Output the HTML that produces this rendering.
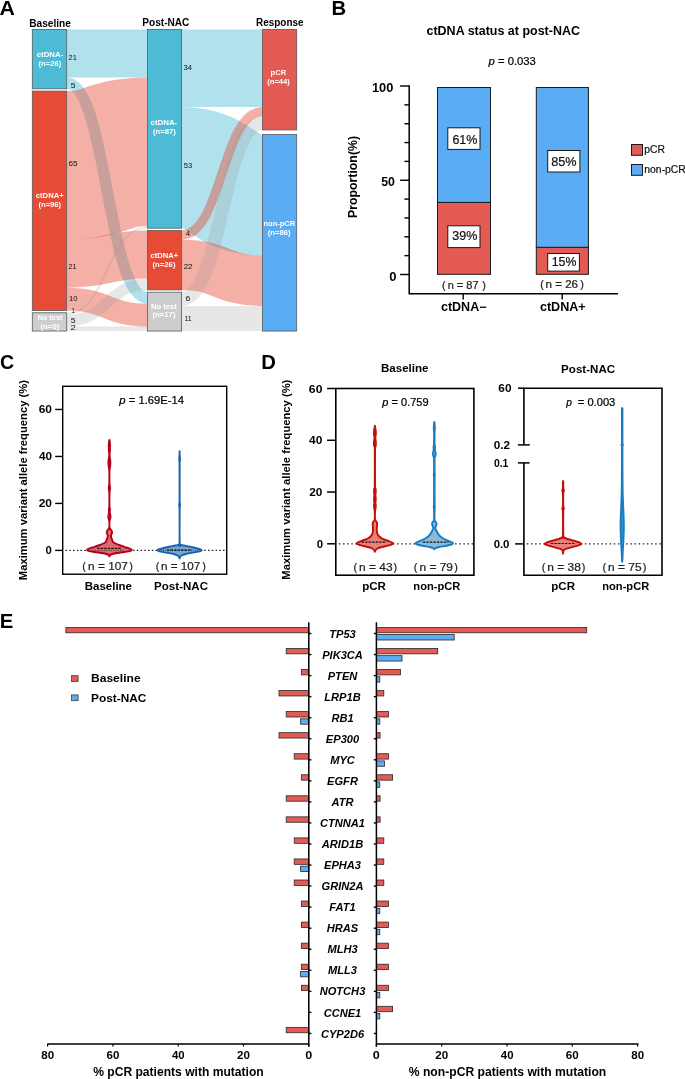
<!DOCTYPE html>
<html><head><meta charset="utf-8"><title>Figure</title>
<style>
html,body{margin:0;padding:0;background:#fff;overflow:hidden;}
svg{display:block;will-change:transform;}
text{font-family:"Liberation Sans", sans-serif;}
</style></head>
<body>
<svg width="685" height="1079" viewBox="0 0 685 1079" font-family="Liberation Sans, sans-serif">

<path d="M66.70,53.39C107.10,53.39 107.10,53.39 147.50,53.39" fill="none" stroke="#4DBBD5" stroke-opacity="0.44" stroke-width="47.98"/>
<path d="M66.70,83.10C107.10,83.10 107.10,297.92 147.50,297.92" fill="none" stroke="#4DBBD5" stroke-opacity="0.44" stroke-width="11.42"/>
<path d="M66.70,165.37C107.10,165.37 107.10,151.65 147.50,151.65" fill="none" stroke="#E64B35" stroke-opacity="0.44" stroke-width="148.52"/>
<path d="M66.70,263.63C107.10,263.63 107.10,254.49 147.50,254.49" fill="none" stroke="#E64B35" stroke-opacity="0.44" stroke-width="47.99"/>
<path d="M66.70,299.05C107.10,299.05 107.10,315.06 147.50,315.06" fill="none" stroke="#E64B35" stroke-opacity="0.44" stroke-width="22.85"/>
<path d="M66.70,313.91C107.10,313.91 107.10,227.05 147.50,227.05" fill="none" stroke="#969696" stroke-opacity="0.23" stroke-width="2.29"/>
<path d="M66.70,320.77C107.10,320.77 107.10,284.19 147.50,284.19" fill="none" stroke="#969696" stroke-opacity="0.23" stroke-width="11.43"/>
<path d="M66.70,328.77C107.10,328.77 107.10,328.77 147.50,328.77" fill="none" stroke="#969696" stroke-opacity="0.23" stroke-width="4.57"/>
<path d="M181.60,68.25C222.00,68.25 222.00,68.25 262.40,68.25" fill="none" stroke="#4DBBD5" stroke-opacity="0.44" stroke-width="77.69"/>
<path d="M181.60,167.64C222.00,167.64 222.00,195.09 262.40,195.09" fill="none" stroke="#4DBBD5" stroke-opacity="0.44" stroke-width="121.10"/>
<path d="M181.60,235.07C222.00,235.07 222.00,111.66 262.40,111.66" fill="none" stroke="#E64B35" stroke-opacity="0.44" stroke-width="9.14"/>
<path d="M181.60,264.77C222.00,264.77 222.00,280.78 262.40,280.78" fill="none" stroke="#E64B35" stroke-opacity="0.44" stroke-width="50.27"/>
<path d="M181.60,299.06C222.00,299.06 222.00,123.09 262.40,123.09" fill="none" stroke="#969696" stroke-opacity="0.23" stroke-width="13.71"/>
<path d="M181.60,318.48C222.00,318.48 222.00,318.48 262.40,318.48" fill="none" stroke="#969696" stroke-opacity="0.23" stroke-width="25.13"/>
<rect x="32.30" y="29.40" width="34.40" height="59.41" fill="#4DBBD5" stroke="#5a5a5a" stroke-width="0.8"/>
<rect x="32.30" y="91.11" width="34.40" height="219.36" fill="#E64B35" stroke="#5a5a5a" stroke-width="0.8"/>
<rect x="32.30" y="312.77" width="34.40" height="18.28" fill="#CDCDCD" stroke="#5a5a5a" stroke-width="0.8"/>
<rect x="147.50" y="29.40" width="34.10" height="198.80" fill="#4DBBD5" stroke="#5a5a5a" stroke-width="0.8"/>
<rect x="147.50" y="230.50" width="34.10" height="59.41" fill="#E64B35" stroke="#5a5a5a" stroke-width="0.8"/>
<rect x="147.50" y="292.21" width="34.10" height="38.85" fill="#CDCDCD" stroke="#5a5a5a" stroke-width="0.8"/>
<rect x="262.40" y="29.40" width="34.30" height="100.54" fill="#E45A55" stroke="#5a5a5a" stroke-width="0.8"/>
<rect x="262.40" y="134.54" width="34.30" height="196.51" fill="#5AACF4" stroke="#5a5a5a" stroke-width="0.8"/>
<text x="36.71" y="57.30" font-size="7.8" font-weight="bold" fill="#fff" textLength="26.62" lengthAdjust="spacingAndGlyphs">ctDNA-</text>
<text x="38.41" y="66.30" font-size="7.8" font-weight="bold" fill="#fff" textLength="22.96" lengthAdjust="spacingAndGlyphs">(n=26)</text>
<text x="35.81" y="197.80" font-size="7.8" font-weight="bold" fill="#fff" textLength="27.89" lengthAdjust="spacingAndGlyphs">ctDNA+</text>
<text x="38.42" y="206.90" font-size="7.8" font-weight="bold" fill="#fff" textLength="22.75" lengthAdjust="spacingAndGlyphs">(n=96)</text>
<text x="37.40" y="319.90" font-size="7.8" font-weight="bold" fill="#fff" textLength="25.07" lengthAdjust="spacingAndGlyphs">No test</text>
<text x="40.40" y="328.60" font-size="7.8" font-weight="bold" fill="#fff" textLength="19.17" lengthAdjust="spacingAndGlyphs">(n=8)</text>
<text x="150.61" y="125.10" font-size="7.8" font-weight="bold" fill="#fff" textLength="26.62" lengthAdjust="spacingAndGlyphs">ctDNA-</text>
<text x="152.91" y="133.90" font-size="7.8" font-weight="bold" fill="#fff" textLength="22.96" lengthAdjust="spacingAndGlyphs">(n=87)</text>
<text x="150.61" y="258.40" font-size="7.8" font-weight="bold" fill="#fff" textLength="27.69" lengthAdjust="spacingAndGlyphs">ctDNA+</text>
<text x="152.51" y="267.20" font-size="7.8" font-weight="bold" fill="#fff" textLength="22.96" lengthAdjust="spacingAndGlyphs">(n=26)</text>
<text x="150.98" y="308.80" font-size="7.8" font-weight="bold" fill="#fff" textLength="25.89" lengthAdjust="spacingAndGlyphs">No test</text>
<text x="152.51" y="317.40" font-size="7.8" font-weight="bold" fill="#fff" textLength="22.96" lengthAdjust="spacingAndGlyphs">(n=17)</text>
<text x="270.51" y="74.80" font-size="7.8" font-weight="bold" fill="#fff" textLength="15.65" lengthAdjust="spacingAndGlyphs">pCR</text>
<text x="267.22" y="83.50" font-size="7.8" font-weight="bold" fill="#fff" textLength="22.65" lengthAdjust="spacingAndGlyphs">(n=44)</text>
<text x="263.51" y="225.80" font-size="7.8" font-weight="bold" fill="#fff" textLength="31.64" lengthAdjust="spacingAndGlyphs">non-pCR</text>
<text x="267.82" y="234.80" font-size="7.8" font-weight="bold" fill="#fff" textLength="22.75" lengthAdjust="spacingAndGlyphs">(n=86)</text>
<text x="68.53" y="59.70" font-size="7.8" fill="#111" textLength="8.24" lengthAdjust="spacingAndGlyphs">21</text>
<text x="70.76" y="87.70" font-size="7.8" fill="#111" textLength="4.68" lengthAdjust="spacingAndGlyphs">5</text>
<text x="68.59" y="165.90" font-size="7.8" fill="#111" textLength="9.05" lengthAdjust="spacingAndGlyphs">65</text>
<text x="68.54" y="268.50" font-size="7.8" fill="#111" textLength="7.91" lengthAdjust="spacingAndGlyphs">21</text>
<text x="69.03" y="300.80" font-size="7.8" fill="#111" textLength="8.48" lengthAdjust="spacingAndGlyphs">10</text>
<text x="71.47" y="313.10" font-size="7.8" fill="#111" textLength="3.21" lengthAdjust="spacingAndGlyphs">1</text>
<text x="70.75" y="322.60" font-size="7.8" fill="#111" textLength="4.80" lengthAdjust="spacingAndGlyphs">5</text>
<text x="70.52" y="330.40" font-size="7.8" fill="#111" textLength="5.35" lengthAdjust="spacingAndGlyphs">2</text>
<text x="183.61" y="69.80" font-size="7.8" fill="#111" textLength="8.52" lengthAdjust="spacingAndGlyphs">34</text>
<text x="183.80" y="167.70" font-size="7.8" fill="#111" textLength="8.44" lengthAdjust="spacingAndGlyphs">53</text>
<text x="185.82" y="235.70" font-size="7.8" fill="#111" textLength="4.41" lengthAdjust="spacingAndGlyphs">4</text>
<text x="183.70" y="268.70" font-size="7.8" fill="#111" textLength="8.79" lengthAdjust="spacingAndGlyphs">22</text>
<text x="185.57" y="301.00" font-size="7.8" fill="#111" textLength="4.81" lengthAdjust="spacingAndGlyphs">6</text>
<text x="184.38" y="321.20" font-size="7.8" fill="#111" textLength="7.26" lengthAdjust="spacingAndGlyphs">11</text>
<text x="29.22" y="26.50" font-size="10" font-weight="bold" textLength="41.62" lengthAdjust="spacingAndGlyphs">Baseline</text>
<text x="142.32" y="26.40" font-size="10" font-weight="bold" textLength="47.05" lengthAdjust="spacingAndGlyphs">Post-NAC</text>
<text x="255.93" y="26.40" font-size="10" font-weight="bold" textLength="47.72" lengthAdjust="spacingAndGlyphs">Response</text>
<text x="-0.53" y="14.50" font-size="20" font-weight="bold" textLength="15.41" lengthAdjust="spacingAndGlyphs">A</text>
<text x="331.63" y="14.90" font-size="20" font-weight="bold" textLength="14.68" lengthAdjust="spacingAndGlyphs">B</text>
<text x="426.53" y="34.90" font-size="12.2" font-weight="bold" textLength="153.41" lengthAdjust="spacingAndGlyphs">ctDNA status at post-NAC</text>
<text x="488.48" y="65.40" font-size="11.5" stroke="#000" stroke-width="0.22" textLength="47.41" lengthAdjust="spacingAndGlyphs"><tspan font-style="italic">p</tspan> = 0.033</text>
<path d="M409.2,85.30V293.7H618" fill="none" stroke="#000" stroke-width="1.5"/>
<line x1="400.1" y1="274.50" x2="409.2" y2="274.50" stroke="#000" stroke-width="1.4"/>
<line x1="404.4" y1="255.65" x2="409.2" y2="255.65" stroke="#000" stroke-width="1.4"/>
<line x1="404.4" y1="236.80" x2="409.2" y2="236.80" stroke="#000" stroke-width="1.4"/>
<line x1="404.4" y1="217.95" x2="409.2" y2="217.95" stroke="#000" stroke-width="1.4"/>
<line x1="404.4" y1="199.10" x2="409.2" y2="199.10" stroke="#000" stroke-width="1.4"/>
<line x1="400.1" y1="180.25" x2="409.2" y2="180.25" stroke="#000" stroke-width="1.4"/>
<line x1="404.4" y1="161.40" x2="409.2" y2="161.40" stroke="#000" stroke-width="1.4"/>
<line x1="404.4" y1="142.55" x2="409.2" y2="142.55" stroke="#000" stroke-width="1.4"/>
<line x1="404.4" y1="123.70" x2="409.2" y2="123.70" stroke="#000" stroke-width="1.4"/>
<line x1="404.4" y1="104.85" x2="409.2" y2="104.85" stroke="#000" stroke-width="1.4"/>
<line x1="400.1" y1="86.00" x2="409.2" y2="86.00" stroke="#000" stroke-width="1.4"/>
<text x="371.90" y="91.90" font-size="12.5" font-weight="bold" textLength="21.43" lengthAdjust="spacingAndGlyphs">100</text>
<text x="381.13" y="186.40" font-size="12.5" font-weight="bold" textLength="13.69" lengthAdjust="spacingAndGlyphs">50</text>
<text x="389.38" y="280.70" font-size="12.5" font-weight="bold" textLength="7.26" lengthAdjust="spacingAndGlyphs">0</text>
<text transform="translate(357.10,217.10) rotate(-90)" x="-0.83" y="0" font-size="12.4" font-weight="bold" textLength="81.92" lengthAdjust="spacingAndGlyphs">Proportion(%)</text>
<line x1="463.2" y1="293.7" x2="463.2" y2="299.6" stroke="#000" stroke-width="1.4"/>
<line x1="562.2" y1="293.7" x2="562.2" y2="299.6" stroke="#000" stroke-width="1.4"/>
<rect x="437.5" y="202.40" width="53.00" height="71.90" fill="#E45A55" stroke="#1a1a1a" stroke-width="1"/><rect x="437.5" y="87.50" width="53.00" height="114.90" fill="#5AACF4" stroke="#1a1a1a" stroke-width="1"/>
<rect x="536.3" y="247.30" width="52.10" height="27.00" fill="#E45A55" stroke="#1a1a1a" stroke-width="1"/><rect x="536.3" y="87.50" width="52.10" height="159.80" fill="#5AACF4" stroke="#1a1a1a" stroke-width="1"/>
<rect x="447.80" y="127.80" width="32.20" height="21.60" fill="#fff" stroke="#1a1a1a" stroke-width="1"/><text x="452.38" y="143.90" font-size="12.5" fill="#111" stroke="#111" stroke-width="0.22" textLength="24.95" lengthAdjust="spacingAndGlyphs">61%</text>
<rect x="447.80" y="225.80" width="32.20" height="21.80" fill="#fff" stroke="#1a1a1a" stroke-width="1"/><text x="452.33" y="240.40" font-size="12.5" fill="#111" stroke="#111" stroke-width="0.22" textLength="24.99" lengthAdjust="spacingAndGlyphs">39%</text>
<rect x="547.70" y="150.50" width="32.20" height="21.50" fill="#fff" stroke="#1a1a1a" stroke-width="1"/><text x="551.16" y="165.50" font-size="12.5" fill="#111" stroke="#111" stroke-width="0.22" textLength="25.37" lengthAdjust="spacingAndGlyphs">85%</text>
<rect x="547.70" y="253.50" width="31.70" height="17.60" fill="#fff" stroke="#1a1a1a" stroke-width="1"/><text x="551.78" y="266.30" font-size="12.5" fill="#111" stroke="#111" stroke-width="0.22" textLength="24.64" lengthAdjust="spacingAndGlyphs">15%</text>
<text x="442.12" y="288.60" font-size="10" fill="#222" stroke="#222" stroke-width="0.22" textLength="3.64" lengthAdjust="spacingAndGlyphs">(</text><text x="447.69" y="288.60" font-size="10" fill="#222" stroke="#222" stroke-width="0.22" textLength="30.84" lengthAdjust="spacingAndGlyphs">n = 87</text><text x="482.25" y="288.60" font-size="10" fill="#222" stroke="#222" stroke-width="0.22" textLength="3.61" lengthAdjust="spacingAndGlyphs">)</text>
<text x="540.32" y="287.90" font-size="10" fill="#222" stroke="#222" stroke-width="0.22" textLength="3.64" lengthAdjust="spacingAndGlyphs">(</text><text x="545.55" y="287.90" font-size="10" fill="#222" stroke="#222" stroke-width="0.22" textLength="32.45" lengthAdjust="spacingAndGlyphs">n = 26</text><text x="580.15" y="287.90" font-size="10" fill="#222" stroke="#222" stroke-width="0.22" textLength="3.61" lengthAdjust="spacingAndGlyphs">)</text>
<text x="440.93" y="311.40" font-size="12" font-weight="bold" textLength="45.60" lengthAdjust="spacingAndGlyphs">ctDNA−</text>
<text x="539.93" y="310.60" font-size="12" font-weight="bold" textLength="45.77" lengthAdjust="spacingAndGlyphs">ctDNA+</text>
<rect x="631.5" y="144.5" width="11" height="10.8" fill="#E45A55" stroke="#1a1a1a" stroke-width="1"/>
<rect x="631.5" y="164.5" width="11" height="10.8" fill="#5AACF4" stroke="#1a1a1a" stroke-width="1"/>
<text x="644.33" y="152.90" font-size="10" fill="#111" stroke="#111" stroke-width="0.22" textLength="20.56" lengthAdjust="spacingAndGlyphs">pCR</text>
<text x="644.32" y="172.60" font-size="10" fill="#111" stroke="#111" stroke-width="0.22" textLength="41.56" lengthAdjust="spacingAndGlyphs">non-pCR</text>
<text x="0.12" y="368.50" font-size="20" font-weight="bold" textLength="14.11" lengthAdjust="spacingAndGlyphs">C</text>
<rect x="62.7" y="386.3" width="164" height="187.9" fill="none" stroke="#000" stroke-width="1.4"/>
<line x1="55.2" y1="550.40" x2="62.7" y2="550.40" stroke="#000" stroke-width="1.4"/>
<line x1="55.2" y1="503.42" x2="62.7" y2="503.42" stroke="#000" stroke-width="1.4"/>
<line x1="55.2" y1="456.44" x2="62.7" y2="456.44" stroke="#000" stroke-width="1.4"/>
<line x1="55.2" y1="409.46" x2="62.7" y2="409.46" stroke="#000" stroke-width="1.4"/>
<text x="38.68" y="413.40" font-size="11.5" font-weight="bold" textLength="13.33" lengthAdjust="spacingAndGlyphs">60</text>
<text x="38.92" y="460.40" font-size="11.5" font-weight="bold" textLength="13.07" lengthAdjust="spacingAndGlyphs">40</text>
<text x="38.68" y="507.30" font-size="11.5" font-weight="bold" textLength="13.33" lengthAdjust="spacingAndGlyphs">20</text>
<text x="45.45" y="554.10" font-size="11.5" font-weight="bold" textLength="6.32" lengthAdjust="spacingAndGlyphs">0</text>
<text transform="translate(26.70,579.40) rotate(-90)" x="-0.76" y="0" font-size="11.3" font-weight="bold" textLength="200.09" lengthAdjust="spacingAndGlyphs">Maximum variant allele frequency (%)</text>
<text x="119.38" y="403.70" font-size="10.5" stroke="#000" stroke-width="0.22" textLength="64.75" lengthAdjust="spacingAndGlyphs"><tspan font-style="italic">p</tspan> = 1.69E-14</text>
<line x1="65.6" y1="550.3" x2="226" y2="550.3" stroke="#111" stroke-width="1.3" stroke-dasharray="1.4,2.35"/>
<path d="M109.48,440.20C109.55,440.42 109.67,440.87 109.75,441.50C109.83,442.13 109.90,443.25 109.95,444.00C110.00,444.75 110.07,445.33 110.05,446.00C110.03,446.67 109.85,447.33 109.85,448.00C109.85,448.67 110.07,449.33 110.05,450.00C110.03,450.67 109.83,451.25 109.75,452.00C109.67,452.75 109.55,453.67 109.55,454.50C109.55,455.33 109.63,456.08 109.75,457.00C109.87,457.92 110.15,459.08 110.25,460.00C110.35,460.92 110.35,461.67 110.35,462.50C110.35,463.33 110.33,464.08 110.25,465.00C110.17,465.92 109.98,467.00 109.85,468.00C109.73,469.00 109.56,468.50 109.50,471.00C109.44,473.50 109.44,480.58 109.48,483.00C109.52,485.42 109.66,484.63 109.75,485.50C109.84,486.37 110.05,487.28 110.05,488.20C110.05,489.12 109.84,490.12 109.75,491.00C109.66,491.88 109.53,491.00 109.48,493.50C109.44,496.00 109.44,503.58 109.48,506.00C109.53,508.42 109.67,507.37 109.75,508.00C109.83,508.63 109.95,509.13 109.95,509.80C109.95,510.47 109.73,511.30 109.75,512.00C109.77,512.70 109.92,513.22 110.05,514.00C110.18,514.78 110.55,515.87 110.55,516.70C110.55,517.53 110.23,518.20 110.05,519.00C109.88,519.80 109.59,520.08 109.50,521.50C109.41,522.92 109.31,526.17 109.50,527.50C109.69,528.83 110.24,528.83 110.65,529.50C111.06,530.17 111.73,530.92 111.95,531.50C112.17,532.08 112.10,532.33 111.95,533.00C111.80,533.67 111.17,534.75 111.05,535.50C110.93,536.25 111.05,536.75 111.25,537.50C111.45,538.25 111.97,539.28 112.25,540.00C112.53,540.72 112.42,541.22 112.95,541.80C113.48,542.38 114.20,542.88 115.45,543.50C116.70,544.12 118.62,544.83 120.45,545.50C122.28,546.17 124.73,546.92 126.45,547.50C128.17,548.08 129.87,548.60 130.75,549.00C131.63,549.40 131.80,549.58 131.75,549.90C131.70,550.22 131.67,550.55 130.45,550.90C129.23,551.25 126.95,551.62 124.45,552.00C121.95,552.38 117.70,552.78 115.45,553.20C113.20,553.62 111.92,554.12 110.95,554.50C109.98,554.88 109.90,555.20 109.65,555.50C109.41,555.80 109.53,556.17 109.48,556.30C109.43,556.43 109.38,556.43 109.32,556.30C109.27,556.17 109.40,555.80 109.15,555.50C108.91,555.20 108.82,554.88 107.85,554.50C106.88,554.12 105.60,553.62 103.35,553.20C101.10,552.78 96.85,552.38 94.35,552.00C91.85,551.62 89.57,551.25 88.35,550.90C87.13,550.55 87.10,550.22 87.05,549.90C87.00,549.58 87.17,549.40 88.05,549.00C88.93,548.60 90.63,548.08 92.35,547.50C94.07,546.92 96.52,546.17 98.35,545.50C100.18,544.83 102.10,544.12 103.35,543.50C104.60,542.88 105.32,542.38 105.85,541.80C106.38,541.22 106.27,540.72 106.55,540.00C106.83,539.28 107.35,538.25 107.55,537.50C107.75,536.75 107.87,536.25 107.75,535.50C107.63,534.75 107.00,533.67 106.85,533.00C106.70,532.33 106.63,532.08 106.85,531.50C107.07,530.92 107.74,530.17 108.15,529.50C108.56,528.83 109.11,528.83 109.30,527.50C109.49,526.17 109.39,522.92 109.30,521.50C109.21,520.08 108.92,519.80 108.75,519.00C108.58,518.20 108.25,517.53 108.25,516.70C108.25,515.87 108.62,514.78 108.75,514.00C108.88,513.22 109.03,512.70 109.05,512.00C109.07,511.30 108.85,510.47 108.85,509.80C108.85,509.13 108.97,508.63 109.05,508.00C109.13,507.37 109.28,508.42 109.32,506.00C109.37,503.58 109.37,496.00 109.32,493.50C109.28,491.00 109.15,491.88 109.05,491.00C108.96,490.12 108.75,489.12 108.75,488.20C108.75,487.28 108.96,486.37 109.05,485.50C109.15,484.63 109.28,485.42 109.32,483.00C109.36,480.58 109.36,473.50 109.30,471.00C109.24,468.50 109.08,469.00 108.95,468.00C108.83,467.00 108.63,465.92 108.55,465.00C108.47,464.08 108.45,463.33 108.45,462.50C108.45,461.67 108.45,460.92 108.55,460.00C108.65,459.08 108.93,457.92 109.05,457.00C109.17,456.08 109.25,455.33 109.25,454.50C109.25,453.67 109.13,452.75 109.05,452.00C108.97,451.25 108.77,450.67 108.75,450.00C108.73,449.33 108.95,448.67 108.95,448.00C108.95,447.33 108.77,446.67 108.75,446.00C108.73,445.33 108.80,444.75 108.85,444.00C108.90,443.25 108.97,442.13 109.05,441.50C109.13,440.87 109.25,440.42 109.32,440.20C109.39,439.98 109.41,439.98 109.48,440.20Z" fill="#DC6B6E" stroke="#B4001A" stroke-width="1.9" stroke-linejoin="round"/>
<path d="M179.68,451.30C179.71,451.50 179.68,451.88 179.68,452.50C179.68,453.12 179.66,454.17 179.70,455.00C179.74,455.83 179.90,456.75 179.95,457.50C180.00,458.25 180.02,458.83 180.00,459.50C179.98,460.17 179.90,460.83 179.85,461.50C179.80,462.17 179.71,456.92 179.68,463.50C179.65,470.08 179.64,494.42 179.68,501.00C179.72,507.58 179.85,502.33 179.90,503.00C179.95,503.67 180.01,504.33 180.00,505.00C179.99,505.67 179.90,506.33 179.85,507.00C179.80,507.67 179.71,502.97 179.68,509.00C179.65,515.03 179.52,537.28 179.68,543.20C179.84,549.12 179.99,544.12 180.65,544.50C181.31,544.88 182.32,545.17 183.65,545.50C184.98,545.83 186.98,546.17 188.65,546.50C190.32,546.83 191.98,547.12 193.65,547.50C195.32,547.88 197.28,548.35 198.65,548.80C200.02,549.25 201.85,549.75 201.85,550.20C201.85,550.65 200.35,551.07 198.65,551.50C196.95,551.93 193.82,552.38 191.65,552.80C189.48,553.22 187.32,553.55 185.65,554.00C183.98,554.45 182.58,555.00 181.65,555.50C180.72,556.00 180.38,556.53 180.05,557.00C179.72,557.47 179.77,558.08 179.68,558.30C179.59,558.52 179.61,558.52 179.52,558.30C179.43,558.08 179.48,557.47 179.15,557.00C178.82,556.53 178.48,556.00 177.55,555.50C176.62,555.00 175.22,554.45 173.55,554.00C171.88,553.55 169.72,553.22 167.55,552.80C165.38,552.38 162.25,551.93 160.55,551.50C158.85,551.07 157.35,550.65 157.35,550.20C157.35,549.75 159.18,549.25 160.55,548.80C161.92,548.35 163.88,547.88 165.55,547.50C167.22,547.12 168.88,546.83 170.55,546.50C172.22,546.17 174.22,545.83 175.55,545.50C176.88,545.17 177.89,544.88 178.55,544.50C179.21,544.12 179.36,549.12 179.52,543.20C179.68,537.28 179.55,515.03 179.52,509.00C179.49,502.97 179.40,507.67 179.35,507.00C179.30,506.33 179.21,505.67 179.20,505.00C179.19,504.33 179.25,503.67 179.30,503.00C179.35,502.33 179.48,507.58 179.52,501.00C179.56,494.42 179.55,470.08 179.52,463.50C179.49,456.92 179.40,462.17 179.35,461.50C179.30,460.83 179.22,460.17 179.20,459.50C179.18,458.83 179.20,458.25 179.25,457.50C179.30,456.75 179.46,455.83 179.50,455.00C179.54,454.17 179.52,453.12 179.52,452.50C179.52,451.88 179.49,451.50 179.52,451.30C179.55,451.10 179.65,451.10 179.68,451.30Z" fill="#78A5D2" stroke="#1965AC" stroke-width="1.9" stroke-linejoin="round"/>
<line x1="92.4" y1="550.4" x2="123.8" y2="550.4" stroke="#222" stroke-width="0.9" stroke-dasharray="0.9,1.4"/>
<line x1="97.3" y1="548.3" x2="121.4" y2="548.3" stroke="#111" stroke-width="1.2" stroke-dasharray="2.4,1.1"/>
<line x1="160.6" y1="550.2" x2="197.8" y2="550.2" stroke="#222" stroke-width="0.9" stroke-dasharray="0.9,1.4"/>
<line x1="167" y1="550.2" x2="192" y2="550.2" stroke="#111" stroke-width="1.2" stroke-dasharray="2.4,1.1"/>
<text x="82.32" y="570.40" font-size="11.5" fill="#222" stroke="#222" stroke-width="0.22" textLength="3.64" lengthAdjust="spacingAndGlyphs">(</text><text x="88.13" y="570.40" font-size="11.5" fill="#222" stroke="#222" stroke-width="0.22" textLength="39.75" lengthAdjust="spacingAndGlyphs">n = 107</text><text x="129.25" y="570.40" font-size="11.5" fill="#222" stroke="#222" stroke-width="0.22" textLength="3.61" lengthAdjust="spacingAndGlyphs">)</text>
<text x="155.82" y="570.40" font-size="11.5" fill="#222" stroke="#222" stroke-width="0.22" textLength="3.64" lengthAdjust="spacingAndGlyphs">(</text><text x="161.04" y="570.40" font-size="11.5" fill="#222" stroke="#222" stroke-width="0.22" textLength="39.34" lengthAdjust="spacingAndGlyphs">n = 107</text><text x="202.15" y="570.40" font-size="11.5" fill="#222" stroke="#222" stroke-width="0.22" textLength="3.61" lengthAdjust="spacingAndGlyphs">)</text>
<text x="84.72" y="590.10" font-size="11" font-weight="bold" textLength="47.26" lengthAdjust="spacingAndGlyphs">Baseline</text>
<text x="154.12" y="590.10" font-size="11" font-weight="bold" textLength="53.89" lengthAdjust="spacingAndGlyphs">Post-NAC</text>
<text x="261.33" y="368.60" font-size="20" font-weight="bold" textLength="14.62" lengthAdjust="spacingAndGlyphs">D</text>
<text transform="translate(290.30,578.90) rotate(-90)" x="-0.76" y="0" font-size="11.3" font-weight="bold" textLength="199.99" lengthAdjust="spacingAndGlyphs">Maximum variant allele frequency (%)</text>
<rect x="335.8" y="388.5" width="138.1" height="186.7" fill="none" stroke="#000" stroke-width="1.6"/>
<line x1="327.1" y1="543.80" x2="335.8" y2="543.80" stroke="#000" stroke-width="1.5"/>
<line x1="327.1" y1="492.03" x2="335.8" y2="492.03" stroke="#000" stroke-width="1.5"/>
<line x1="327.1" y1="440.27" x2="335.8" y2="440.27" stroke="#000" stroke-width="1.5"/>
<line x1="327.1" y1="388.50" x2="335.8" y2="388.50" stroke="#000" stroke-width="1.5"/>
<text x="308.87" y="392.60" font-size="11.4" font-weight="bold" textLength="13.54" lengthAdjust="spacingAndGlyphs">60</text>
<text x="309.12" y="444.40" font-size="11.4" font-weight="bold" textLength="13.28" lengthAdjust="spacingAndGlyphs">40</text>
<text x="309.28" y="496.10" font-size="11.4" font-weight="bold" textLength="13.22" lengthAdjust="spacingAndGlyphs">20</text>
<text x="316.65" y="547.80" font-size="11.4" font-weight="bold" textLength="6.32" lengthAdjust="spacingAndGlyphs">0</text>
<text x="381.02" y="372.30" font-size="11" font-weight="bold" textLength="47.46" lengthAdjust="spacingAndGlyphs">Baseline</text>
<text x="382.38" y="405.50" font-size="10.5" stroke="#000" stroke-width="0.22" textLength="46.23" lengthAdjust="spacingAndGlyphs"><tspan font-style="italic">p</tspan> = 0.759</text>
<line x1="338.85" y1="543.8" x2="473" y2="543.8" stroke="#222" stroke-width="1.3" stroke-dasharray="1.5,2.65"/>
<path d="M374.98,425.90C375.03,426.17 375.04,426.82 375.15,427.50C375.26,428.18 375.52,428.97 375.65,430.00C375.77,431.03 375.93,432.62 375.90,433.70C375.87,434.78 375.54,435.70 375.45,436.50C375.36,437.30 375.30,437.75 375.35,438.50C375.40,439.25 375.66,440.13 375.75,441.00C375.84,441.87 375.93,442.78 375.90,443.70C375.87,444.62 375.69,445.70 375.55,446.50C375.41,447.30 375.13,441.92 375.05,448.50C374.97,455.08 374.97,479.33 375.05,486.00C375.13,492.67 375.42,487.60 375.55,488.50C375.67,489.40 375.82,490.32 375.80,491.40C375.78,492.48 375.45,493.70 375.45,495.00C375.45,496.30 375.80,497.92 375.80,499.20C375.80,500.48 375.45,501.55 375.45,502.70C375.45,503.85 375.80,505.05 375.80,506.10C375.80,507.15 375.57,508.18 375.45,509.00C375.32,509.82 375.12,509.25 375.05,511.00C374.98,512.75 374.82,517.75 375.05,519.50C375.28,521.25 376.10,520.77 376.45,521.50C376.80,522.23 377.08,522.98 377.15,523.90C377.22,524.82 376.90,525.82 376.85,527.00C376.80,528.18 376.77,529.92 376.85,531.00C376.93,532.08 377.03,532.67 377.35,533.50C377.67,534.33 377.98,535.17 378.75,536.00C379.52,536.83 380.58,537.75 381.95,538.50C383.32,539.25 385.45,539.92 386.95,540.50C388.45,541.08 389.90,541.55 390.95,542.00C392.00,542.45 393.08,542.80 393.25,543.20C393.42,543.60 392.83,544.00 391.95,544.40C391.07,544.80 389.62,545.17 387.95,545.60C386.28,546.03 383.70,546.52 381.95,547.00C380.20,547.48 378.48,548.00 377.45,548.50C376.42,549.00 376.16,549.50 375.75,550.00C375.34,550.50 375.13,551.25 374.98,551.50C374.82,551.75 374.98,551.75 374.82,551.50C374.66,551.25 374.46,550.50 374.05,550.00C373.64,549.50 373.38,549.00 372.35,548.50C371.32,548.00 369.60,547.48 367.85,547.00C366.10,546.52 363.52,546.03 361.85,545.60C360.18,545.17 358.73,544.80 357.85,544.40C356.97,544.00 356.38,543.60 356.55,543.20C356.72,542.80 357.80,542.45 358.85,542.00C359.90,541.55 361.35,541.08 362.85,540.50C364.35,539.92 366.48,539.25 367.85,538.50C369.22,537.75 370.28,536.83 371.05,536.00C371.82,535.17 372.13,534.33 372.45,533.50C372.77,532.67 372.87,532.08 372.95,531.00C373.03,529.92 373.00,528.18 372.95,527.00C372.90,525.82 372.58,524.82 372.65,523.90C372.72,522.98 373.00,522.23 373.35,521.50C373.70,520.77 374.52,521.25 374.75,519.50C374.98,517.75 374.82,512.75 374.75,511.00C374.68,509.25 374.47,509.82 374.35,509.00C374.22,508.18 374.00,507.15 374.00,506.10C374.00,505.05 374.35,503.85 374.35,502.70C374.35,501.55 374.00,500.48 374.00,499.20C374.00,497.92 374.35,496.30 374.35,495.00C374.35,493.70 374.02,492.48 374.00,491.40C373.98,490.32 374.12,489.40 374.25,488.50C374.38,487.60 374.67,492.67 374.75,486.00C374.83,479.33 374.83,455.08 374.75,448.50C374.67,441.92 374.39,447.30 374.25,446.50C374.11,445.70 373.93,444.62 373.90,443.70C373.87,442.78 373.96,441.87 374.05,441.00C374.14,440.13 374.40,439.25 374.45,438.50C374.50,437.75 374.44,437.30 374.35,436.50C374.26,435.70 373.93,434.78 373.90,433.70C373.87,432.62 374.02,431.03 374.15,430.00C374.27,428.97 374.54,428.18 374.65,427.50C374.76,426.82 374.76,426.17 374.82,425.90C374.88,425.63 374.92,425.63 374.98,425.90Z" fill="#E6827D" stroke="#C40F05" stroke-width="1.9" stroke-linejoin="round"/>
<path d="M434.38,422.20C434.44,422.42 434.49,422.87 434.55,423.50C434.61,424.13 434.70,425.15 434.75,426.00C434.80,426.85 434.87,427.68 434.85,428.60C434.83,429.52 434.70,430.77 434.65,431.50C434.60,432.23 434.56,430.92 434.55,433.00C434.54,435.08 434.52,441.68 434.60,444.00C434.68,446.32 434.99,445.90 435.05,446.90C435.11,447.90 434.83,448.80 434.95,450.00C435.07,451.20 435.78,452.85 435.75,454.10C435.72,455.35 434.94,456.68 434.75,457.50C434.56,458.32 434.62,456.67 434.60,459.00C434.58,461.33 434.55,468.88 434.60,471.50C434.65,474.12 434.90,473.62 434.90,474.70C434.90,475.78 434.65,473.28 434.60,478.00C434.55,482.72 434.55,498.23 434.60,503.00C434.65,507.77 434.90,505.43 434.90,506.60C434.90,507.77 434.65,507.77 434.60,510.00C434.55,512.23 434.41,518.03 434.60,520.00C434.79,521.97 435.43,521.17 435.75,521.80C436.07,522.43 436.52,523.10 436.55,523.80C436.58,524.50 436.17,525.27 435.95,526.00C435.73,526.73 435.15,527.37 435.25,528.20C435.35,529.03 436.10,530.12 436.55,531.00C437.00,531.88 437.40,532.67 437.95,533.50C438.50,534.33 438.95,535.17 439.85,536.00C440.75,536.83 441.93,537.70 443.35,538.50C444.77,539.30 446.93,540.17 448.35,540.80C449.77,541.43 451.07,541.90 451.85,542.30C452.63,542.70 453.13,542.83 453.05,543.20C452.97,543.57 452.47,544.07 451.35,544.50C450.23,544.93 448.35,545.38 446.35,545.80C444.35,546.22 441.15,546.60 439.35,547.00C437.55,547.40 436.38,547.85 435.55,548.20C434.72,548.55 434.60,548.95 434.38,549.10C434.16,549.25 434.44,549.25 434.22,549.10C434.00,548.95 433.88,548.55 433.05,548.20C432.22,547.85 431.05,547.40 429.25,547.00C427.45,546.60 424.25,546.22 422.25,545.80C420.25,545.38 418.37,544.93 417.25,544.50C416.13,544.07 415.63,543.57 415.55,543.20C415.47,542.83 415.97,542.70 416.75,542.30C417.53,541.90 418.83,541.43 420.25,540.80C421.67,540.17 423.83,539.30 425.25,538.50C426.67,537.70 427.85,536.83 428.75,536.00C429.65,535.17 430.10,534.33 430.65,533.50C431.20,532.67 431.60,531.88 432.05,531.00C432.50,530.12 433.25,529.03 433.35,528.20C433.45,527.37 432.87,526.73 432.65,526.00C432.43,525.27 432.02,524.50 432.05,523.80C432.08,523.10 432.53,522.43 432.85,521.80C433.18,521.17 433.81,521.97 434.00,520.00C434.19,518.03 434.05,512.23 434.00,510.00C433.95,507.77 433.70,507.77 433.70,506.60C433.70,505.43 433.95,507.77 434.00,503.00C434.05,498.23 434.05,482.72 434.00,478.00C433.95,473.28 433.70,475.78 433.70,474.70C433.70,473.62 433.95,474.12 434.00,471.50C434.05,468.88 434.02,461.33 434.00,459.00C433.98,456.67 434.04,458.32 433.85,457.50C433.66,456.68 432.88,455.35 432.85,454.10C432.82,452.85 433.53,451.20 433.65,450.00C433.77,448.80 433.49,447.90 433.55,446.90C433.61,445.90 433.92,446.32 434.00,444.00C434.08,441.68 434.06,435.08 434.05,433.00C434.04,430.92 434.00,432.23 433.95,431.50C433.90,430.77 433.77,429.52 433.75,428.60C433.73,427.68 433.80,426.85 433.85,426.00C433.90,425.15 433.99,424.13 434.05,423.50C434.11,422.87 434.17,422.42 434.22,422.20C434.28,421.98 434.32,421.98 434.38,422.20Z" fill="#8CB9DC" stroke="#167DC3" stroke-width="1.9" stroke-linejoin="round"/>
<line x1="361.6" y1="542.2" x2="386.4" y2="542.2" stroke="#111" stroke-width="1.2" stroke-dasharray="2.4,1.1"/>
<line x1="422.9" y1="542.2" x2="448.4" y2="542.2" stroke="#111" stroke-width="1.2" stroke-dasharray="2.4,1.1"/>
<text x="353.52" y="571.10" font-size="10.8" fill="#222" stroke="#222" stroke-width="0.22" textLength="3.64" lengthAdjust="spacingAndGlyphs">(</text><text x="359.12" y="571.10" font-size="10.8" fill="#222" stroke="#222" stroke-width="0.22" textLength="33.49" lengthAdjust="spacingAndGlyphs">n = 43</text><text x="393.55" y="571.10" font-size="10.8" fill="#222" stroke="#222" stroke-width="0.22" textLength="3.61" lengthAdjust="spacingAndGlyphs">)</text>
<text x="413.82" y="571.10" font-size="10.8" fill="#222" stroke="#222" stroke-width="0.22" textLength="3.64" lengthAdjust="spacingAndGlyphs">(</text><text x="419.42" y="571.10" font-size="10.8" fill="#222" stroke="#222" stroke-width="0.22" textLength="33.63" lengthAdjust="spacingAndGlyphs">n = 79</text><text x="454.25" y="571.10" font-size="10.8" fill="#222" stroke="#222" stroke-width="0.22" textLength="3.61" lengthAdjust="spacingAndGlyphs">)</text>
<text x="362.15" y="589.70" font-size="11" font-weight="bold" textLength="23.79" lengthAdjust="spacingAndGlyphs">pCR</text>
<text x="413.38" y="589.70" font-size="11" font-weight="bold" textLength="46.95" lengthAdjust="spacingAndGlyphs">non-pCR</text>
<path d="M523.9,444.9V388.2H662.0V575.2H523.9V462.9" fill="none" stroke="#000" stroke-width="1.6"/>
<line x1="517.9" y1="444.9" x2="529.8" y2="444.9" stroke="#000" stroke-width="1.5"/>
<line x1="517.9" y1="462.9" x2="529.6" y2="462.9" stroke="#000" stroke-width="1.5"/>
<line x1="518.1" y1="388.2" x2="523.9" y2="388.2" stroke="#000" stroke-width="1.6"/>
<line x1="515.1" y1="543.9" x2="523.9" y2="543.9" stroke="#000" stroke-width="1.5"/>
<text x="498.38" y="392.30" font-size="11.3" font-weight="bold" textLength="13.22" lengthAdjust="spacingAndGlyphs">60</text>
<text x="493.83" y="448.80" font-size="11.3" font-weight="bold" textLength="16.31" lengthAdjust="spacingAndGlyphs">0.2</text>
<text x="493.88" y="466.70" font-size="11.3" font-weight="bold" textLength="14.48" lengthAdjust="spacingAndGlyphs">0.1</text>
<text x="493.65" y="548.00" font-size="11.3" font-weight="bold" textLength="15.81" lengthAdjust="spacingAndGlyphs">0.0</text>
<text x="561.12" y="372.50" font-size="11" font-weight="bold" textLength="53.99" lengthAdjust="spacingAndGlyphs">Post-NAC</text>
<text x="566.25" y="405.50" font-size="10.5" font-style="italic" stroke="#000" stroke-width="0.22" textLength="5.66" lengthAdjust="spacingAndGlyphs">p</text>
<text x="577.77" y="405.50" font-size="10.5" stroke="#000" stroke-width="0.22" textLength="37.52" lengthAdjust="spacingAndGlyphs">= 0.003</text>
<line x1="526.85" y1="543.9" x2="661" y2="543.9" stroke="#222" stroke-width="1.3" stroke-dasharray="1.5,2.64"/>
<path d="M563.18,481.10C563.23,481.33 563.28,481.35 563.30,482.50C563.32,483.65 563.19,486.65 563.30,488.00C563.41,489.35 563.95,489.73 563.95,490.60C563.95,491.47 563.41,490.63 563.30,493.20C563.19,495.77 563.19,503.42 563.30,506.00C563.41,508.58 563.95,507.82 563.95,508.70C563.95,509.58 563.41,506.83 563.30,511.30C563.19,515.77 563.23,531.22 563.30,535.50C563.38,539.78 563.27,536.50 563.75,537.00C564.23,537.50 564.92,538.00 566.15,538.50C567.38,539.00 569.48,539.50 571.15,540.00C572.82,540.50 574.72,541.05 576.15,541.50C577.58,541.95 578.85,542.32 579.75,542.70C580.65,543.08 581.55,543.43 581.55,543.80C581.55,544.17 580.65,544.52 579.75,544.90C578.85,545.28 577.58,545.68 576.15,546.10C574.72,546.52 572.73,546.98 571.15,547.40C569.57,547.82 567.85,548.17 566.65,548.60C565.45,549.03 564.50,549.52 563.95,550.00C563.40,550.48 563.48,551.05 563.35,551.50C563.22,551.95 563.21,552.37 563.18,552.70C563.15,553.03 563.21,553.37 563.18,553.50C563.15,553.63 563.05,553.63 563.02,553.50C562.99,553.37 563.05,553.03 563.02,552.70C562.99,552.37 562.98,551.95 562.85,551.50C562.72,551.05 562.80,550.48 562.25,550.00C561.70,549.52 560.75,549.03 559.55,548.60C558.35,548.17 556.63,547.82 555.05,547.40C553.47,546.98 551.48,546.52 550.05,546.10C548.62,545.68 547.35,545.28 546.45,544.90C545.55,544.52 544.65,544.17 544.65,543.80C544.65,543.43 545.55,543.08 546.45,542.70C547.35,542.32 548.62,541.95 550.05,541.50C551.48,541.05 553.38,540.50 555.05,540.00C556.72,539.50 558.82,539.00 560.05,538.50C561.28,538.00 561.98,537.50 562.45,537.00C562.93,536.50 562.83,539.78 562.90,535.50C562.97,531.22 563.01,515.77 562.90,511.30C562.79,506.83 562.25,509.58 562.25,508.70C562.25,507.82 562.79,508.58 562.90,506.00C563.01,503.42 563.01,495.77 562.90,493.20C562.79,490.63 562.25,491.47 562.25,490.60C562.25,489.73 562.79,489.35 562.90,488.00C563.01,486.65 562.88,483.65 562.90,482.50C562.92,481.35 562.97,481.33 563.02,481.10C563.07,480.87 563.13,480.87 563.18,481.10Z" fill="#E6827D" stroke="#C40F05" stroke-width="1.9" stroke-linejoin="round"/>
<path d="M622.28,409.40C622.34,409.67 622.42,405.52 622.45,411.00C622.48,416.48 622.37,436.65 622.45,442.30C622.53,447.95 622.95,444.03 622.95,444.90C622.95,445.77 622.52,441.65 622.45,447.50C622.38,453.35 622.50,472.08 622.55,480.00C622.60,487.92 622.65,490.83 622.75,495.00C622.85,499.17 623.02,501.67 623.15,505.00C623.28,508.33 623.43,511.50 623.55,515.00C623.67,518.50 623.85,522.33 623.85,526.00C623.85,529.67 623.67,533.83 623.55,537.00C623.43,540.17 623.28,542.50 623.15,545.00C623.02,547.50 622.86,549.83 622.75,552.00C622.64,554.17 622.58,556.43 622.50,558.00C622.42,559.57 622.34,560.83 622.28,561.40C622.22,561.97 622.18,561.97 622.12,561.40C622.06,560.83 621.98,559.57 621.90,558.00C621.82,556.43 621.76,554.17 621.65,552.00C621.54,549.83 621.38,547.50 621.25,545.00C621.12,542.50 620.97,540.17 620.85,537.00C620.73,533.83 620.55,529.67 620.55,526.00C620.55,522.33 620.73,518.50 620.85,515.00C620.97,511.50 621.12,508.33 621.25,505.00C621.38,501.67 621.55,499.17 621.65,495.00C621.75,490.83 621.80,487.92 621.85,480.00C621.90,472.08 622.02,453.35 621.95,447.50C621.88,441.65 621.45,445.77 621.45,444.90C621.45,444.03 621.87,447.95 621.95,442.30C622.03,436.65 621.92,416.48 621.95,411.00C621.98,405.52 622.07,409.67 622.12,409.40C622.17,409.13 622.23,409.13 622.28,409.40Z" fill="#3f8fcc" stroke="#167DC3" stroke-width="1.9" stroke-linejoin="round"/>
<line x1="551" y1="543.5" x2="575.5" y2="543.5" stroke="#111" stroke-width="1.2" stroke-dasharray="2.4,1.1"/>
<text x="541.72" y="571.00" font-size="10.5" fill="#222" stroke="#222" stroke-width="0.22" textLength="3.64" lengthAdjust="spacingAndGlyphs">(</text><text x="547.22" y="571.00" font-size="10.5" fill="#222" stroke="#222" stroke-width="0.22" textLength="33.59" lengthAdjust="spacingAndGlyphs">n = 38</text><text x="581.85" y="571.00" font-size="10.5" fill="#222" stroke="#222" stroke-width="0.22" textLength="3.61" lengthAdjust="spacingAndGlyphs">)</text>
<text x="602.52" y="571.00" font-size="10.5" fill="#222" stroke="#222" stroke-width="0.22" textLength="3.64" lengthAdjust="spacingAndGlyphs">(</text><text x="608.02" y="571.00" font-size="10.5" fill="#222" stroke="#222" stroke-width="0.22" textLength="33.56" lengthAdjust="spacingAndGlyphs">n = 75</text><text x="642.65" y="571.00" font-size="10.5" fill="#222" stroke="#222" stroke-width="0.22" textLength="3.61" lengthAdjust="spacingAndGlyphs">)</text>
<text x="551.25" y="589.70" font-size="11" font-weight="bold" textLength="23.79" lengthAdjust="spacingAndGlyphs">pCR</text>
<text x="602.28" y="589.70" font-size="11" font-weight="bold" textLength="46.95" lengthAdjust="spacingAndGlyphs">non-pCR</text>
<text x="-0.17" y="627.80" font-size="20" font-weight="bold" textLength="13.58" lengthAdjust="spacingAndGlyphs">E</text>
<rect x="65.90" y="627.40" width="242.90" height="5.4" fill="#E45A55" stroke="#2a2a2a" stroke-width="0.8"/>
<rect x="376.40" y="627.40" width="210.30" height="5.4" fill="#E45A55" stroke="#2a2a2a" stroke-width="0.8"/>
<rect x="376.40" y="634.60" width="77.80" height="5.4" fill="#5AACF4" stroke="#2a2a2a" stroke-width="0.8"/>
<line x1="308.8" y1="633.50" x2="311.40000000000003" y2="633.50" stroke="#000" stroke-width="1.4"/>
<line x1="373.79999999999995" y1="633.50" x2="376.4" y2="633.50" stroke="#000" stroke-width="1.4"/>
<text x="342.5" y="637.60" font-size="11.1" font-weight="bold" font-style="italic" text-anchor="middle">TP53</text>
<rect x="286.20" y="648.45" width="22.60" height="5.4" fill="#E45A55" stroke="#2a2a2a" stroke-width="0.8"/>
<rect x="376.40" y="648.45" width="61.30" height="5.4" fill="#E45A55" stroke="#2a2a2a" stroke-width="0.8"/>
<rect x="376.40" y="655.65" width="25.60" height="5.4" fill="#5AACF4" stroke="#2a2a2a" stroke-width="0.8"/>
<line x1="308.8" y1="654.55" x2="311.40000000000003" y2="654.55" stroke="#000" stroke-width="1.4"/>
<line x1="373.79999999999995" y1="654.55" x2="376.4" y2="654.55" stroke="#000" stroke-width="1.4"/>
<text x="342.5" y="658.65" font-size="11.1" font-weight="bold" font-style="italic" text-anchor="middle">PIK3CA</text>
<rect x="301.40" y="669.50" width="7.40" height="5.4" fill="#E45A55" stroke="#2a2a2a" stroke-width="0.8"/>
<rect x="376.40" y="669.50" width="24.10" height="5.4" fill="#E45A55" stroke="#2a2a2a" stroke-width="0.8"/>
<rect x="376.40" y="676.70" width="3.40" height="5.4" fill="#5AACF4" stroke="#2a2a2a" stroke-width="0.8"/>
<line x1="308.8" y1="675.60" x2="311.40000000000003" y2="675.60" stroke="#000" stroke-width="1.4"/>
<line x1="373.79999999999995" y1="675.60" x2="376.4" y2="675.60" stroke="#000" stroke-width="1.4"/>
<text x="342.5" y="679.70" font-size="11.1" font-weight="bold" font-style="italic" text-anchor="middle">PTEN</text>
<rect x="279.00" y="690.55" width="29.80" height="5.4" fill="#E45A55" stroke="#2a2a2a" stroke-width="0.8"/>
<rect x="376.40" y="690.55" width="7.40" height="5.4" fill="#E45A55" stroke="#2a2a2a" stroke-width="0.8"/>
<line x1="308.8" y1="696.65" x2="311.40000000000003" y2="696.65" stroke="#000" stroke-width="1.4"/>
<line x1="373.79999999999995" y1="696.65" x2="376.4" y2="696.65" stroke="#000" stroke-width="1.4"/>
<text x="342.5" y="700.75" font-size="11.1" font-weight="bold" font-style="italic" text-anchor="middle">LRP1B</text>
<rect x="286.20" y="711.60" width="22.60" height="5.4" fill="#E45A55" stroke="#2a2a2a" stroke-width="0.8"/>
<rect x="300.60" y="718.80" width="8.20" height="5.4" fill="#5AACF4" stroke="#2a2a2a" stroke-width="0.8"/>
<rect x="376.40" y="711.60" width="12.00" height="5.4" fill="#E45A55" stroke="#2a2a2a" stroke-width="0.8"/>
<rect x="376.40" y="718.80" width="3.40" height="5.4" fill="#5AACF4" stroke="#2a2a2a" stroke-width="0.8"/>
<line x1="308.8" y1="717.70" x2="311.40000000000003" y2="717.70" stroke="#000" stroke-width="1.4"/>
<line x1="373.79999999999995" y1="717.70" x2="376.4" y2="717.70" stroke="#000" stroke-width="1.4"/>
<text x="342.5" y="721.80" font-size="11.1" font-weight="bold" font-style="italic" text-anchor="middle">RB1</text>
<rect x="279.00" y="732.65" width="29.80" height="5.4" fill="#E45A55" stroke="#2a2a2a" stroke-width="0.8"/>
<rect x="376.40" y="732.65" width="3.70" height="5.4" fill="#E45A55" stroke="#2a2a2a" stroke-width="0.8"/>
<line x1="308.8" y1="738.75" x2="311.40000000000003" y2="738.75" stroke="#000" stroke-width="1.4"/>
<line x1="373.79999999999995" y1="738.75" x2="376.4" y2="738.75" stroke="#000" stroke-width="1.4"/>
<text x="342.5" y="742.85" font-size="11.1" font-weight="bold" font-style="italic" text-anchor="middle">EP300</text>
<rect x="294.20" y="753.70" width="14.60" height="5.4" fill="#E45A55" stroke="#2a2a2a" stroke-width="0.8"/>
<rect x="376.40" y="753.70" width="12.00" height="5.4" fill="#E45A55" stroke="#2a2a2a" stroke-width="0.8"/>
<rect x="376.40" y="760.90" width="8.10" height="5.4" fill="#5AACF4" stroke="#2a2a2a" stroke-width="0.8"/>
<line x1="308.8" y1="759.80" x2="311.40000000000003" y2="759.80" stroke="#000" stroke-width="1.4"/>
<line x1="373.79999999999995" y1="759.80" x2="376.4" y2="759.80" stroke="#000" stroke-width="1.4"/>
<text x="342.5" y="763.90" font-size="11.1" font-weight="bold" font-style="italic" text-anchor="middle">MYC</text>
<rect x="301.40" y="774.75" width="7.40" height="5.4" fill="#E45A55" stroke="#2a2a2a" stroke-width="0.8"/>
<rect x="376.40" y="774.75" width="16.20" height="5.4" fill="#E45A55" stroke="#2a2a2a" stroke-width="0.8"/>
<rect x="376.40" y="781.95" width="3.40" height="5.4" fill="#5AACF4" stroke="#2a2a2a" stroke-width="0.8"/>
<line x1="308.8" y1="780.85" x2="311.40000000000003" y2="780.85" stroke="#000" stroke-width="1.4"/>
<line x1="373.79999999999995" y1="780.85" x2="376.4" y2="780.85" stroke="#000" stroke-width="1.4"/>
<text x="342.5" y="784.95" font-size="11.1" font-weight="bold" font-style="italic" text-anchor="middle">EGFR</text>
<rect x="286.20" y="795.80" width="22.60" height="5.4" fill="#E45A55" stroke="#2a2a2a" stroke-width="0.8"/>
<rect x="376.40" y="795.80" width="3.70" height="5.4" fill="#E45A55" stroke="#2a2a2a" stroke-width="0.8"/>
<line x1="308.8" y1="801.90" x2="311.40000000000003" y2="801.90" stroke="#000" stroke-width="1.4"/>
<line x1="373.79999999999995" y1="801.90" x2="376.4" y2="801.90" stroke="#000" stroke-width="1.4"/>
<text x="342.5" y="806.00" font-size="11.1" font-weight="bold" font-style="italic" text-anchor="middle">ATR</text>
<rect x="286.20" y="816.85" width="22.60" height="5.4" fill="#E45A55" stroke="#2a2a2a" stroke-width="0.8"/>
<rect x="376.40" y="816.85" width="3.70" height="5.4" fill="#E45A55" stroke="#2a2a2a" stroke-width="0.8"/>
<line x1="308.8" y1="822.95" x2="311.40000000000003" y2="822.95" stroke="#000" stroke-width="1.4"/>
<line x1="373.79999999999995" y1="822.95" x2="376.4" y2="822.95" stroke="#000" stroke-width="1.4"/>
<text x="342.5" y="827.05" font-size="11.1" font-weight="bold" font-style="italic" text-anchor="middle">CTNNA1</text>
<rect x="294.20" y="837.90" width="14.60" height="5.4" fill="#E45A55" stroke="#2a2a2a" stroke-width="0.8"/>
<rect x="376.40" y="837.90" width="7.40" height="5.4" fill="#E45A55" stroke="#2a2a2a" stroke-width="0.8"/>
<line x1="308.8" y1="844.00" x2="311.40000000000003" y2="844.00" stroke="#000" stroke-width="1.4"/>
<line x1="373.79999999999995" y1="844.00" x2="376.4" y2="844.00" stroke="#000" stroke-width="1.4"/>
<text x="342.5" y="848.10" font-size="11.1" font-weight="bold" font-style="italic" text-anchor="middle">ARID1B</text>
<rect x="294.20" y="858.95" width="14.60" height="5.4" fill="#E45A55" stroke="#2a2a2a" stroke-width="0.8"/>
<rect x="300.60" y="866.15" width="8.20" height="5.4" fill="#5AACF4" stroke="#2a2a2a" stroke-width="0.8"/>
<rect x="376.40" y="858.95" width="7.40" height="5.4" fill="#E45A55" stroke="#2a2a2a" stroke-width="0.8"/>
<line x1="308.8" y1="865.05" x2="311.40000000000003" y2="865.05" stroke="#000" stroke-width="1.4"/>
<line x1="373.79999999999995" y1="865.05" x2="376.4" y2="865.05" stroke="#000" stroke-width="1.4"/>
<text x="342.5" y="869.15" font-size="11.1" font-weight="bold" font-style="italic" text-anchor="middle">EPHA3</text>
<rect x="294.20" y="880.00" width="14.60" height="5.4" fill="#E45A55" stroke="#2a2a2a" stroke-width="0.8"/>
<rect x="376.40" y="880.00" width="7.40" height="5.4" fill="#E45A55" stroke="#2a2a2a" stroke-width="0.8"/>
<line x1="308.8" y1="886.10" x2="311.40000000000003" y2="886.10" stroke="#000" stroke-width="1.4"/>
<line x1="373.79999999999995" y1="886.10" x2="376.4" y2="886.10" stroke="#000" stroke-width="1.4"/>
<text x="342.5" y="890.20" font-size="11.1" font-weight="bold" font-style="italic" text-anchor="middle">GRIN2A</text>
<rect x="301.40" y="901.05" width="7.40" height="5.4" fill="#E45A55" stroke="#2a2a2a" stroke-width="0.8"/>
<rect x="376.40" y="901.05" width="12.00" height="5.4" fill="#E45A55" stroke="#2a2a2a" stroke-width="0.8"/>
<rect x="376.40" y="908.25" width="3.40" height="5.4" fill="#5AACF4" stroke="#2a2a2a" stroke-width="0.8"/>
<line x1="308.8" y1="907.15" x2="311.40000000000003" y2="907.15" stroke="#000" stroke-width="1.4"/>
<line x1="373.79999999999995" y1="907.15" x2="376.4" y2="907.15" stroke="#000" stroke-width="1.4"/>
<text x="342.5" y="911.25" font-size="11.1" font-weight="bold" font-style="italic" text-anchor="middle">FAT1</text>
<rect x="301.40" y="922.10" width="7.40" height="5.4" fill="#E45A55" stroke="#2a2a2a" stroke-width="0.8"/>
<rect x="376.40" y="922.10" width="12.00" height="5.4" fill="#E45A55" stroke="#2a2a2a" stroke-width="0.8"/>
<rect x="376.40" y="929.30" width="3.40" height="5.4" fill="#5AACF4" stroke="#2a2a2a" stroke-width="0.8"/>
<line x1="308.8" y1="928.20" x2="311.40000000000003" y2="928.20" stroke="#000" stroke-width="1.4"/>
<line x1="373.79999999999995" y1="928.20" x2="376.4" y2="928.20" stroke="#000" stroke-width="1.4"/>
<text x="342.5" y="932.30" font-size="11.1" font-weight="bold" font-style="italic" text-anchor="middle">HRAS</text>
<rect x="301.40" y="943.15" width="7.40" height="5.4" fill="#E45A55" stroke="#2a2a2a" stroke-width="0.8"/>
<rect x="376.40" y="943.15" width="12.00" height="5.4" fill="#E45A55" stroke="#2a2a2a" stroke-width="0.8"/>
<line x1="308.8" y1="949.25" x2="311.40000000000003" y2="949.25" stroke="#000" stroke-width="1.4"/>
<line x1="373.79999999999995" y1="949.25" x2="376.4" y2="949.25" stroke="#000" stroke-width="1.4"/>
<text x="342.5" y="953.35" font-size="11.1" font-weight="bold" font-style="italic" text-anchor="middle">MLH3</text>
<rect x="301.40" y="964.20" width="7.40" height="5.4" fill="#E45A55" stroke="#2a2a2a" stroke-width="0.8"/>
<rect x="300.60" y="971.40" width="8.20" height="5.4" fill="#5AACF4" stroke="#2a2a2a" stroke-width="0.8"/>
<rect x="376.40" y="964.20" width="12.00" height="5.4" fill="#E45A55" stroke="#2a2a2a" stroke-width="0.8"/>
<line x1="308.8" y1="970.30" x2="311.40000000000003" y2="970.30" stroke="#000" stroke-width="1.4"/>
<line x1="373.79999999999995" y1="970.30" x2="376.4" y2="970.30" stroke="#000" stroke-width="1.4"/>
<text x="342.5" y="974.40" font-size="11.1" font-weight="bold" font-style="italic" text-anchor="middle">MLL3</text>
<rect x="301.40" y="985.25" width="7.40" height="5.4" fill="#E45A55" stroke="#2a2a2a" stroke-width="0.8"/>
<rect x="376.40" y="985.25" width="12.00" height="5.4" fill="#E45A55" stroke="#2a2a2a" stroke-width="0.8"/>
<rect x="376.40" y="992.45" width="3.40" height="5.4" fill="#5AACF4" stroke="#2a2a2a" stroke-width="0.8"/>
<line x1="308.8" y1="991.35" x2="311.40000000000003" y2="991.35" stroke="#000" stroke-width="1.4"/>
<line x1="373.79999999999995" y1="991.35" x2="376.4" y2="991.35" stroke="#000" stroke-width="1.4"/>
<text x="342.5" y="995.45" font-size="11.1" font-weight="bold" font-style="italic" text-anchor="middle">NOTCH3</text>
<rect x="376.40" y="1006.30" width="16.20" height="5.4" fill="#E45A55" stroke="#2a2a2a" stroke-width="0.8"/>
<rect x="376.40" y="1013.50" width="3.40" height="5.4" fill="#5AACF4" stroke="#2a2a2a" stroke-width="0.8"/>
<line x1="308.8" y1="1012.40" x2="311.40000000000003" y2="1012.40" stroke="#000" stroke-width="1.4"/>
<line x1="373.79999999999995" y1="1012.40" x2="376.4" y2="1012.40" stroke="#000" stroke-width="1.4"/>
<text x="342.5" y="1016.50" font-size="11.1" font-weight="bold" font-style="italic" text-anchor="middle">CCNE1</text>
<rect x="286.20" y="1027.35" width="22.60" height="5.4" fill="#E45A55" stroke="#2a2a2a" stroke-width="0.8"/>
<line x1="308.8" y1="1033.45" x2="311.40000000000003" y2="1033.45" stroke="#000" stroke-width="1.4"/>
<line x1="373.79999999999995" y1="1033.45" x2="376.4" y2="1033.45" stroke="#000" stroke-width="1.4"/>
<text x="342.5" y="1037.55" font-size="11.1" font-weight="bold" font-style="italic" text-anchor="middle">CYP2D6</text>
<path d="M308.8,622.3V1046.8M308.8,1044H47.4" fill="none" stroke="#000" stroke-width="1.5"/>
<path d="M376.4,622.3V1046.8M376.4,1044H638.5" fill="none" stroke="#000" stroke-width="1.5"/>
<line x1="308.80" y1="1044" x2="308.80" y2="1046.5" stroke="#000" stroke-width="1.2"/>
<line x1="376.40" y1="1044" x2="376.40" y2="1046.5" stroke="#000" stroke-width="1.2"/>
<text x="305.29" y="1058.80" font-size="11.3" font-weight="bold" textLength="7.03" lengthAdjust="spacingAndGlyphs">0</text>
<text x="372.89" y="1058.80" font-size="11.3" font-weight="bold" textLength="7.03" lengthAdjust="spacingAndGlyphs">0</text>
<line x1="243.50" y1="1044" x2="243.50" y2="1046.5" stroke="#000" stroke-width="1.2"/>
<line x1="441.70" y1="1044" x2="441.70" y2="1046.5" stroke="#000" stroke-width="1.2"/>
<text x="237.09" y="1058.80" font-size="11.3" font-weight="bold" textLength="12.90" lengthAdjust="spacingAndGlyphs">20</text>
<text x="435.29" y="1058.80" font-size="11.3" font-weight="bold" textLength="12.90" lengthAdjust="spacingAndGlyphs">20</text>
<line x1="178.20" y1="1044" x2="178.20" y2="1046.5" stroke="#000" stroke-width="1.2"/>
<line x1="507.00" y1="1044" x2="507.00" y2="1046.5" stroke="#000" stroke-width="1.2"/>
<text x="172.03" y="1058.80" font-size="11.3" font-weight="bold" textLength="12.65" lengthAdjust="spacingAndGlyphs">40</text>
<text x="500.83" y="1058.80" font-size="11.3" font-weight="bold" textLength="12.65" lengthAdjust="spacingAndGlyphs">40</text>
<line x1="112.90" y1="1044" x2="112.90" y2="1046.5" stroke="#000" stroke-width="1.2"/>
<line x1="572.30" y1="1044" x2="572.30" y2="1046.5" stroke="#000" stroke-width="1.2"/>
<text x="106.49" y="1058.80" font-size="11.3" font-weight="bold" textLength="12.90" lengthAdjust="spacingAndGlyphs">60</text>
<text x="565.89" y="1058.80" font-size="11.3" font-weight="bold" textLength="12.90" lengthAdjust="spacingAndGlyphs">60</text>
<line x1="47.60" y1="1044" x2="47.60" y2="1046.5" stroke="#000" stroke-width="1.2"/>
<line x1="637.60" y1="1044" x2="637.60" y2="1046.5" stroke="#000" stroke-width="1.2"/>
<text x="41.25" y="1058.80" font-size="11.3" font-weight="bold" textLength="12.83" lengthAdjust="spacingAndGlyphs">80</text>
<text x="631.25" y="1058.80" font-size="11.3" font-weight="bold" textLength="12.83" lengthAdjust="spacingAndGlyphs">80</text>
<text x="93.20" y="1076.00" font-size="12.5" font-weight="bold" textLength="170.54" lengthAdjust="spacingAndGlyphs">% pCR patients with mutation</text>
<text x="408.80" y="1076.00" font-size="12.5" font-weight="bold" textLength="197.45" lengthAdjust="spacingAndGlyphs">% non-pCR patients with mutation</text>
<rect x="71.6" y="675.7" width="6.5" height="5.8" fill="#E45A55" stroke="#2a2a2a" stroke-width="0.7"/>
<rect x="71.6" y="694.9" width="6.5" height="5.8" fill="#5AACF4" stroke="#2a2a2a" stroke-width="0.7"/>
<text x="90.99" y="682.30" font-size="11.5" font-weight="bold" textLength="49.62" lengthAdjust="spacingAndGlyphs">Baseline</text>
<text x="91.00" y="701.60" font-size="11.5" font-weight="bold" textLength="55.32" lengthAdjust="spacingAndGlyphs">Post-NAC</text>
</svg>
</body></html>
